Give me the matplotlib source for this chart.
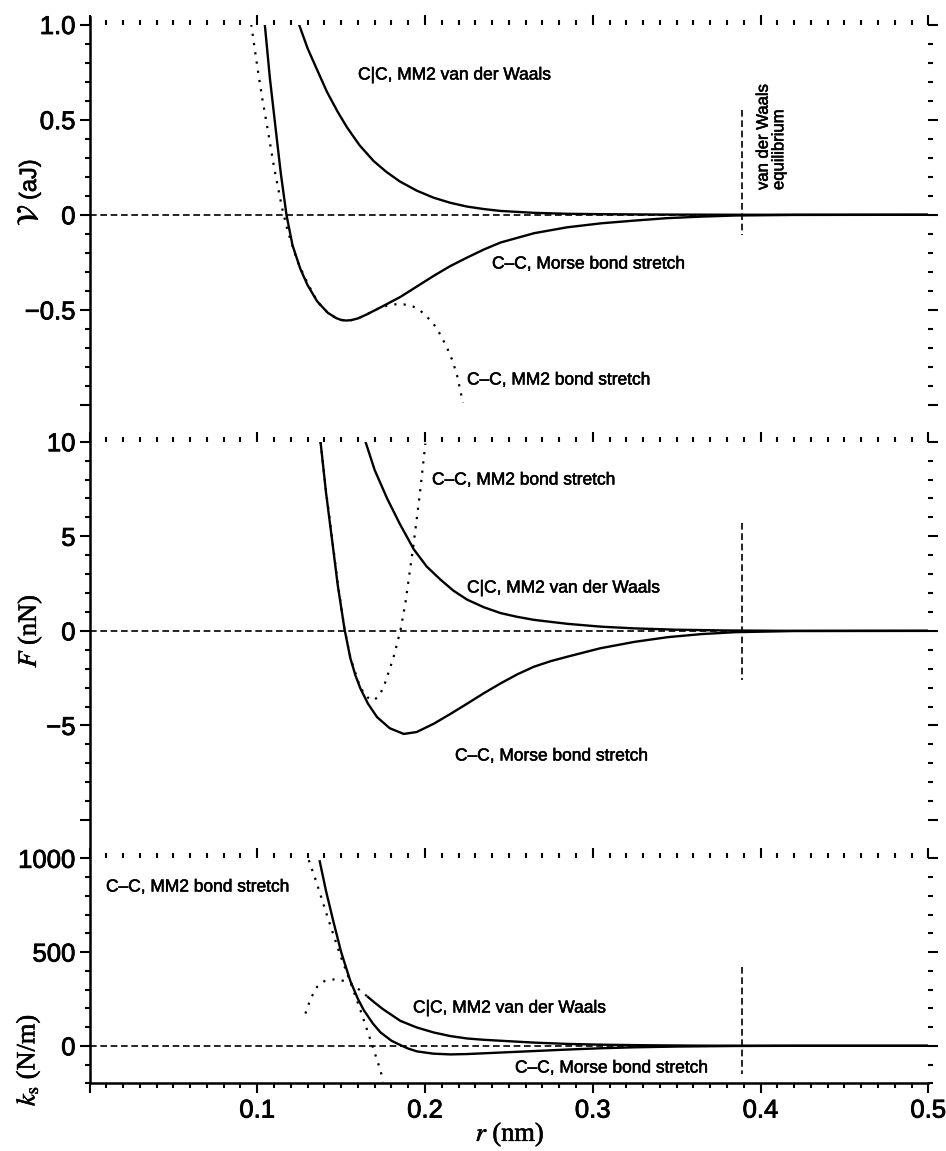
import matplotlib
matplotlib.use('Agg')
import matplotlib.pyplot as plt
import matplotlib.patheffects as pe
from matplotlib.lines import Line2D
from matplotlib.ticker import MultipleLocator, FixedLocator, FixedFormatter

plt.rcParams['mathtext.fontset'] = 'stix'
plt.rcParams['font.family'] = ['Liberation Sans', 'DejaVu Sans']

# ---------------- data ----------------
# x axis
x_ticks = [0.0, 0.1, 0.2, 0.3, 0.4, 0.5]
x_ticklabels = ['', '0.1', '0.2', '0.3', '0.4', '0.5']
r_vdw_eq = 0.389

# Panel 1: potential energy V (aJ)
V_ticks = [-1.0, -0.5, 0.0, 0.5, 1.0]
V_ticklabels = ['', '\u22120.5', '0', '0.5', '1.0']
V_morse_r = [0.1045, 0.1075, 0.1108, 0.1140, 0.1174, 0.1210, 0.1257, 0.1300, 0.1357,
             0.1420, 0.1470, 0.1500, 0.1530, 0.1560, 0.1600, 0.1655, 0.1750, 0.1853,
             0.1950, 0.2052, 0.2150, 0.2251, 0.2350, 0.2450, 0.2650, 0.2847, 0.3050,
             0.3244, 0.3440, 0.3640, 0.3850, 0.4200, 0.5000]
V_morse = [1.00, 0.72, 0.465, 0.22, 0.00, -0.16, -0.285, -0.37, -0.455,
           -0.515, -0.543, -0.553, -0.556, -0.554, -0.545, -0.523, -0.480, -0.432,
           -0.378, -0.321, -0.270, -0.225, -0.183, -0.146, -0.097, -0.066, -0.045,
           -0.031, -0.018, -0.010, -0.004, -0.001, 0.0]
V_mm2_r = [0.0964, 0.1000, 0.1030, 0.1059, 0.1100, 0.1148, 0.1180, 0.1237, 0.1297,
           0.1357, 0.1420, 0.1470, 0.1500, 0.1530, 0.1560, 0.1600, 0.1655, 0.1720,
           0.1774, 0.1830, 0.1873, 0.1930, 0.1973, 0.2010, 0.2052, 0.2090, 0.2131,
           0.2165, 0.2191, 0.2226]
V_mm2 = [1.00, 0.78, 0.61, 0.465, 0.25, 0.035, -0.08, -0.24, -0.355,
         -0.455, -0.515, -0.543, -0.553, -0.556, -0.554, -0.545, -0.522, -0.494,
         -0.478, -0.470, -0.471, -0.483, -0.505, -0.535, -0.575, -0.628, -0.698,
         -0.770, -0.845, -0.988]
V_vdw_r = [0.1249, 0.1300, 0.1350, 0.1416, 0.1480, 0.1536, 0.1610, 0.1694, 0.1770,
           0.1850, 0.1950, 0.2050, 0.2150, 0.2250, 0.2350, 0.2450, 0.2650, 0.2850,
           0.3050, 0.3400, 0.3880, 0.5000]
V_vdw = [1.00, 0.875, 0.775, 0.645, 0.540, 0.458, 0.365, 0.282, 0.225,
         0.175, 0.127, 0.090, 0.063, 0.043, 0.030, 0.020, 0.010, 0.005,
         0.003, 0.001, 0.0, 0.0]

# Panel 2: force F (nN)
F_ticks = [-10, -5, 0, 5, 10]
F_ticklabels = ['', '\u22125', '0', '5', '10']
F_morse_r = [0.1377, 0.1410, 0.1446, 0.1480, 0.1520, 0.1555, 0.1585, 0.1615, 0.1660,
             0.1714, 0.1790, 0.1873, 0.1950, 0.2052, 0.2150, 0.2251, 0.2350, 0.2450,
             0.2550, 0.2648, 0.2750, 0.2847, 0.3045, 0.3250, 0.3450, 0.3650, 0.3850,
             0.4200, 0.5000]
F_morse = [10.0, 7.3, 4.8, 2.4, 0.1, -1.45, -2.35, -3.05, -3.85,
           -4.56, -5.15, -5.45, -5.35, -4.91, -4.40, -3.85, -3.30, -2.78,
           -2.30, -1.90, -1.60, -1.37, -0.92, -0.58, -0.33, -0.17, -0.07,
           -0.01, 0.0]
F_mm2_r = [0.1377, 0.1410, 0.1446, 0.1480, 0.1520, 0.1555, 0.1600, 0.1634, 0.1670,
           0.1694, 0.1725, 0.1754, 0.1790, 0.1813, 0.1853, 0.1883, 0.1933, 0.1970,
           0.2002]
F_mm2 = [10.0, 7.4, 4.9, 2.5, 0.1, -1.4, -2.65, -3.3, -3.62,
         -3.67, -3.45, -2.96, -2.0, -1.37, 0.0, 1.47, 4.66, 7.3,
         9.9]
F_vdw_r = [0.1645, 0.1700, 0.1774, 0.1850, 0.1933, 0.2010, 0.2092, 0.2170, 0.2251,
           0.2350, 0.2450, 0.2550, 0.2650, 0.2850, 0.3050, 0.3250, 0.3500, 0.3800,
           0.4200, 0.5000]
F_vdw = [10.0, 8.5, 7.0, 5.65, 4.31, 3.40, 2.71, 2.12, 1.65,
         1.25, 0.94, 0.74, 0.58, 0.37, 0.22, 0.13, 0.06, 0.02,
         0.0, 0.0]

# Panel 3: stiffness k_s (N/m)
k_ticks = [0, 500, 1000]
k_ticklabels = ['0', '500', '1000']
k_morse_r = [0.1371, 0.1410, 0.1456, 0.1500, 0.1555, 0.1600, 0.1635, 0.1690, 0.1734,
             0.1800, 0.1853, 0.1900, 0.1953, 0.2050, 0.2151, 0.2250, 0.2450, 0.2650,
             0.2850, 0.3050, 0.3250, 0.3500, 0.3850, 0.4200, 0.5000]
k_morse = [990, 825, 655, 500, 345, 250, 190, 118, 72,
           27, 4, -15, -30, -42, -46, -44, -36, -28,
           -20, -13, -8, -4, -1, 0, 0]
k_mm2_r = [0.1307, 0.1350, 0.1416, 0.1496, 0.1555, 0.1615, 0.1685, 0.1734, 0.1750]
k_mm2 = [990, 880, 695, 480, 340, 190, 4, -130, -190]
k_vdw_r = [0.1655, 0.1700, 0.1750, 0.1853, 0.1950, 0.2052, 0.2150, 0.2251, 0.2350,
           0.2450, 0.2650, 0.2850, 0.3050, 0.3300, 0.3600, 0.3900, 0.5000]
k_vdw = [264, 230, 195, 133, 98, 71, 52, 39, 32,
         27, 17, 10, 6, 3, 1, 0, 0]
k_vdw_dot_r = [0.1287, 0.1320, 0.1357, 0.1400, 0.1456, 0.1500, 0.1555, 0.1600, 0.1655]
k_vdw_dot = [172, 255, 315, 345, 354, 350, 335, 305, 264]

# ---------------- layout ----------------
W, H = 946, 1151
fig = plt.figure(figsize=(W / 100, H / 100), dpi=100)
fig.patch.set_facecolor('white')


def fx(px):
    return px / W


def fy(py):
    return 1 - py / H


X0, X1 = 89.5, 928.3
rows = [(24.5, 405.0), (441.7, 820.0), (858.3, 1083.3)]
ylims = [(-1.0, 1.0), (-10, 10), (-200, 1000)]
yminor = [0.1, 1, 100]
yticks = [V_ticks, F_ticks, k_ticks]
yticklabels = [V_ticklabels, F_ticklabels, k_ticklabels]

solid = dict(color='black', lw=1.7, solid_capstyle='butt', solid_joinstyle='round')
dotted = dict(color='black', lw=1.6, linestyle=(0, (1, 3.2)))
dashed = dict(color='black', lw=1.2, linestyle=(0, (4, 2.2)))
thick = [pe.withStroke(linewidth=0.6, foreground='black')]
thin = [pe.withStroke(linewidth=0.4, foreground='black')]

axes = []
for i, (top, bot) in enumerate(rows):
    ax = fig.add_axes([fx(X0), fy(bot), (X1 - X0) / W, (bot - top) / H])
    ax.set_xlim(0, 0.5)
    ax.set_ylim(*ylims[i])
    for s in ['left', 'right', 'top', 'bottom']:
        ax.spines[s].set_visible(False)
    ax.xaxis.set_major_locator(FixedLocator(x_ticks))
    ax.xaxis.set_minor_locator(MultipleLocator(0.01))
    ax.yaxis.set_major_locator(FixedLocator(yticks[i]))
    ax.yaxis.set_major_formatter(FixedFormatter(yticklabels[i]))
    ax.yaxis.set_minor_locator(MultipleLocator(yminor[i]))
    last = (i == 2)
    if last:
        ax.spines['bottom'].set_visible(True)
        ax.spines['bottom'].set_linewidth(1.8)
        ax.xaxis.set_major_formatter(FixedFormatter(x_ticklabels))
    ax.tick_params(axis='x', which='both', top=True, bottom=last, labelbottom=last,
                   direction='out', width=1.5, labelsize=18.5, pad=4)
    ax.tick_params(axis='x', which='major', length=7)
    ax.tick_params(axis='x', which='minor', length=3.6)
    ax.tick_params(axis='y', which='both', left=True, right=True, labelleft=True,
                   direction='out', width=1.5, labelsize=18.5, pad=3)
    ax.tick_params(axis='y', which='major', length=7)
    ax.tick_params(axis='y', which='minor', length=3.6)
    for t in ax.get_xticklabels() + ax.get_yticklabels():
        t.set_path_effects(thick)
    ax.axhline(0, **dashed)
    axes.append(ax)

# continuous left frame line
fig.add_artist(Line2D([fx(X0), fx(X0)], [fy(17), fy(1083.3)], color='black', lw=1.8))

ax1, ax2, ax3 = axes
# Panel 1
ax1.plot(V_mm2_r, V_mm2, **dotted)
ax1.plot(V_morse_r, V_morse, **solid)
ax1.plot(V_vdw_r, V_vdw, **solid)
ax1.plot([r_vdw_eq, r_vdw_eq], [0.55, -0.105], **dashed)
# Panel 2
ax2.plot(F_mm2_r, F_mm2, **dotted)
ax2.plot(F_morse_r, F_morse, **solid)
ax2.plot(F_vdw_r, F_vdw, **solid)
ax2.plot([r_vdw_eq, r_vdw_eq], [5.7, -2.6], **dashed)
# Panel 3
ax3.plot(k_mm2_r, k_mm2, **dotted)
ax3.plot(k_vdw_dot_r, k_vdw_dot, **dotted)
ax3.plot(k_morse_r, k_morse, **solid)
ax3.plot(k_vdw_r, k_vdw, **solid)
ax3.plot([r_vdw_eq, r_vdw_eq], [420, -150], **dashed)

# curve labels
lab = dict(fontsize=12.5, family=['Liberation Sans', 'DejaVu Sans'], ha='left', va='center',
           path_effects=thin)
fig.text(fx(358), fy(75), 'C|C, MM2 van der Waals', **lab)
fig.text(fx(492), fy(264), 'C\u2013C, Morse bond stretch', **lab)
fig.text(fx(467), fy(380), 'C\u2013C, MM2 bond stretch', **lab)
fig.text(fx(432), fy(480), 'C\u2013C, MM2 bond stretch', **lab)
fig.text(fx(467), fy(588), 'C|C, MM2 van der Waals', **lab)
fig.text(fx(455), fy(756), 'C\u2013C, Morse bond stretch', **lab)
fig.text(fx(106), fy(887), 'C\u2013C, MM2 bond stretch', **lab)
fig.text(fx(413), fy(1008), 'C|C, MM2 van der Waals', **lab)
fig.text(fx(515), fy(1068), 'C\u2013C, Morse bond stretch', **lab)
fig.text(fx(771), fy(190), 'van der Waals\nequilibrium', fontsize=12,
         rotation=90, ha='center', va='bottom', multialignment='left', linespacing=1.05,
         path_effects=thin)

# axis labels
serif = ['Liberation Serif', 'DejaVu Serif']
fig.text(fx(30), fy(215), r'$\mathcal{V}$', rotation=90, ha='center', va='center',
         fontsize=21, family=serif, path_effects=thin)
fig.text(fx(30), fy(200), '(aJ)', rotation=90, ha='center', va='bottom',
         fontsize=17, family=['Liberation Sans', 'DejaVu Sans'], path_effects=thin)
fig.text(fx(30), fy(631), r'$F$ (nN)', rotation=90, ha='center', va='center',
         fontsize=19, family=serif, path_effects=thin)
fig.text(fx(28), fy(1060), r'$k_\mathrm{s}$ (N/m)', rotation=90, ha='center', va='center',
         fontsize=19, family=serif, path_effects=thin)
fig.text(fx(510), fy(1135), r'$r$ (nm)', ha='center', va='center', fontsize=19,
         family=serif, path_effects=thin)

fig.savefig('out.png', dpi=100, facecolor='white')
